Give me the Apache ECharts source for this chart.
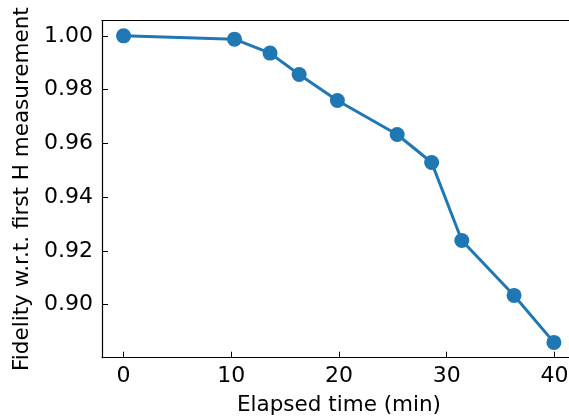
<!DOCTYPE html>
<html>
<head>
<meta charset="utf-8">
<script src="https://cdn.jsdelivr.net/npm/echarts@6/dist/echarts.min.js"></script>
<style>html,body{margin:0;padding:0;background:#fff;overflow:hidden}#c{width:569px;height:420px}</style>
</head>
<body>
<div id="c"></div>
<script>
const elapsedMin = [0, 10.3, 13.6, 16.3, 19.85, 25.4, 28.6, 31.4, 36.25, 39.95];
const fidelity = [1.0, 0.99877, 0.99357, 0.98561, 0.97595, 0.96331, 0.9529, 0.9239, 0.90346, 0.88599];
const xTicks = [0, 10, 20, 30, 40];
const yTicks = [0.90, 0.92, 0.94, 0.96, 0.98, 1.00];
const xLabel = 'Elapsed time (min)';
const yLabel = 'Fidelity w.r.t. first H measurement';

const font = 'DejaVu Sans';
const chart = echarts.init(document.getElementById('c'));
chart.setOption({
  animation: false,
  grid: {left: 102, top: 20.5, right: -7, bottom: 62.3, outerBoundsMode: 'none', containLabel: false, show: false},
  xAxis: [{
    type: 'value', min: -2, max: 42,
    name: xLabel, nameLocation: 'middle', nameGap: 37,
    nameTextStyle: {fontFamily: font, fontSize: 21.5, color: '#000'},
    axisLine: {show: true, onZero: false, lineStyle: {color: '#000', width: 1.2}},
    axisTick: {show: true, inside: true, length: 6, customValues: xTicks, lineStyle: {color: '#000'}},
    axisLabel: {show: true, customValues: xTicks, margin: 8, fontFamily: font, fontSize: 22, color: '#000'},
    splitLine: {show: false}
  }, {
    type: 'value', min: -2, max: 42, position: 'top',
    axisLine: {show: true, onZero: false, lineStyle: {color: '#000', width: 1.2}},
    axisTick: {show: false}, axisLabel: {show: false}, splitLine: {show: false}
  }],
  yAxis: {
    type: 'value', min: 0.8803, max: 1.0057,
    name: yLabel, nameLocation: 'middle', nameGap: 66,
    nameTextStyle: {fontFamily: font, fontSize: 21.5, color: '#000'},
    axisLine: {show: true, onZero: false, lineStyle: {color: '#000', width: 1.2}},
    axisTick: {show: true, inside: true, length: 6, customValues: yTicks, lineStyle: {color: '#000'}},
    axisLabel: {show: true, customValues: yTicks, margin: 9, fontFamily: font, fontSize: 22, color: '#000', formatter: v => v.toFixed(2)},
    splitLine: {show: false}
  },
  series: [{
    type: 'line',
    data: elapsedMin.map((x, i) => [x, fidelity[i]]),
    symbol: 'circle', symbolSize: 15,
    lineStyle: {color: '#1f77b4', width: 3},
    itemStyle: {color: '#1f77b4'}
  }]
});
</script>
</body>
</html>
